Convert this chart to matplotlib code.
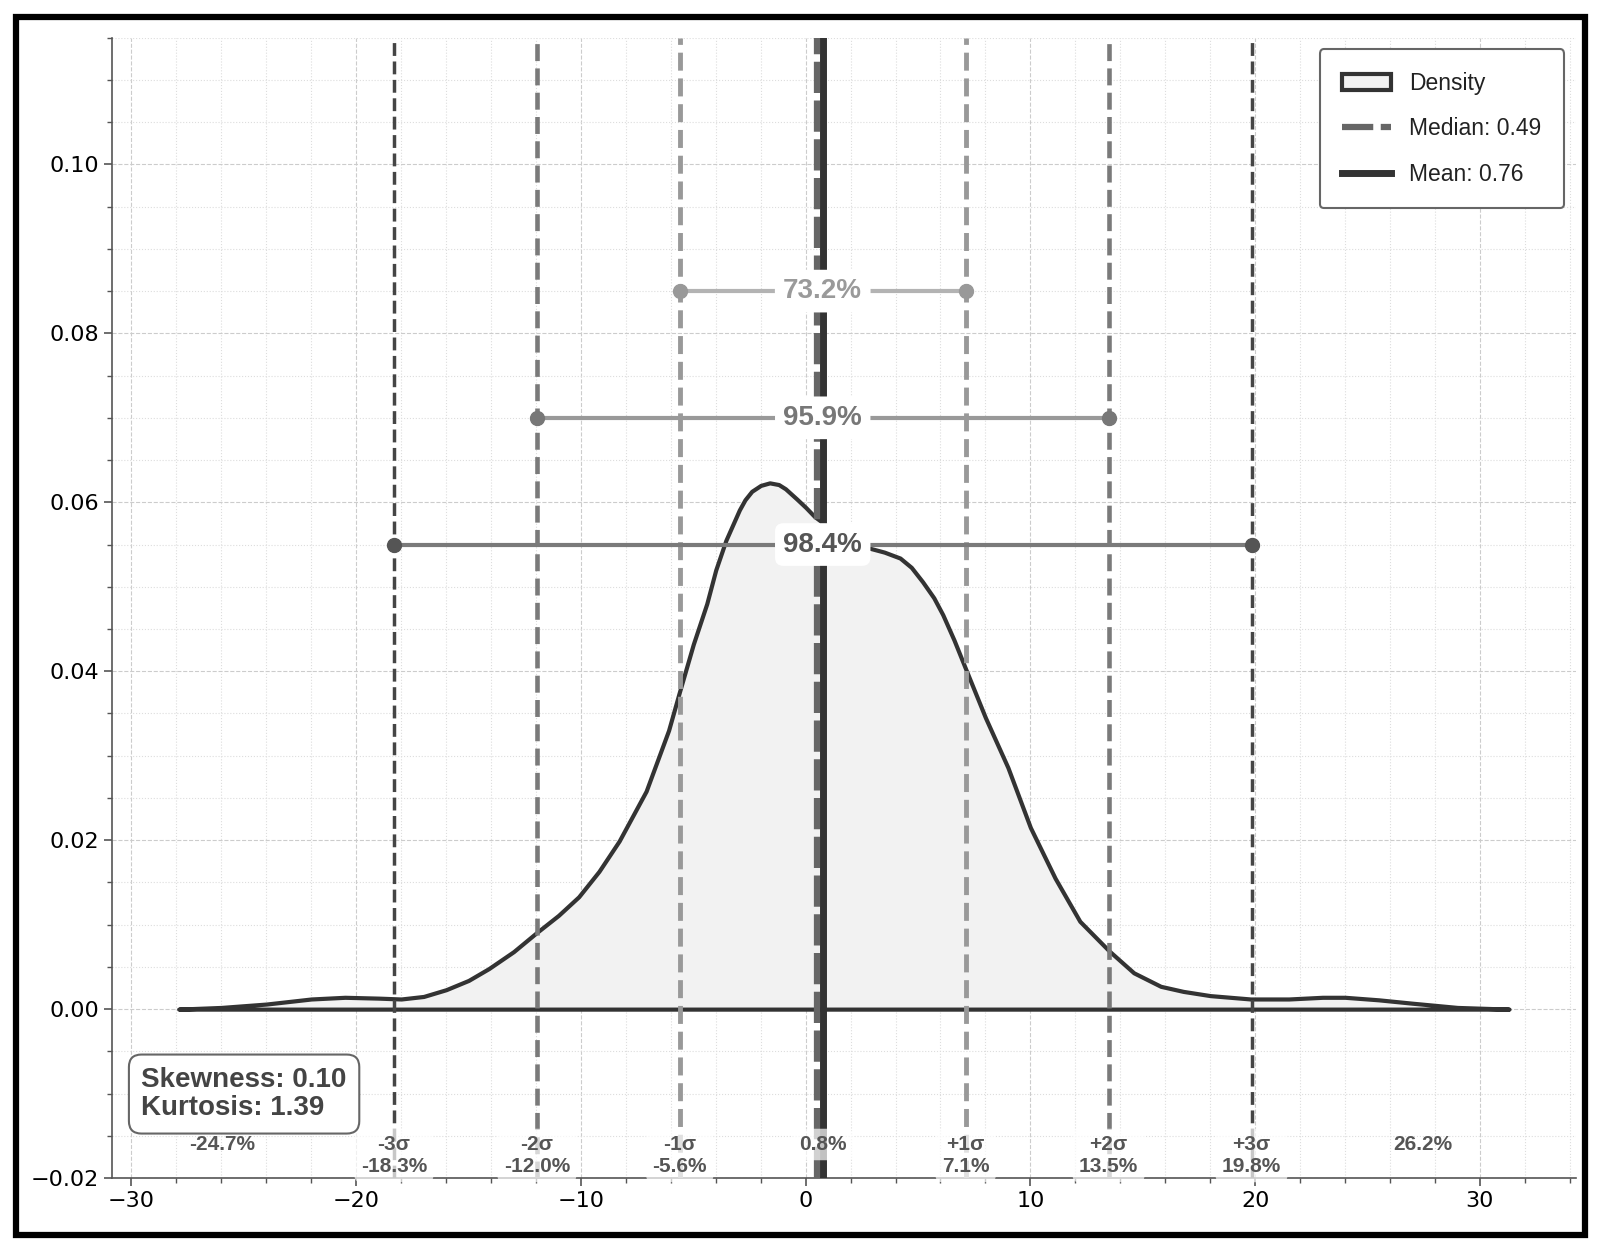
import numpy as np
import matplotlib.pyplot as plt
from matplotlib.patches import Rectangle
from matplotlib.ticker import MultipleLocator

# --- DATEN ---
kde_x = [-27.9, -26.0, -24.0, -22.0, -20.5, -19.0, -18.0, -17.0, -16.0, -15.0,
         -14.1, -13.0, -12.0, -11.0, -10.1, -9.2, -8.3, -7.1, -6.1, -5.6,
         -5.0, -4.4, -4.0, -3.55, -3.2, -2.95, -2.7, -2.4, -2.0, -1.6,
         -1.2, -0.9, -0.4, 0.0, 0.4, 0.76, 1.5, 2.0, 2.8, 3.5,
         4.2, 4.7, 5.2, 5.7, 6.1, 6.6, 7.1, 8.0, 9.0, 10.0,
         11.1, 12.2, 13.5, 14.6, 15.8, 16.8, 18.0, 19.8, 21.5, 23.0,
         24.0, 25.5, 27.0, 29.0, 31.3]
kde_y = [0.0000, 0.0002, 0.0006, 0.0012, 0.0014, 0.0013, 0.0012, 0.0015, 0.0023, 0.0034,
         0.0048, 0.0068, 0.0090, 0.0111, 0.0133, 0.0163, 0.0199, 0.0258, 0.0330, 0.0377,
         0.0432, 0.0480, 0.0520, 0.0555, 0.0576, 0.0591, 0.0603, 0.0613, 0.0620, 0.0623,
         0.0621, 0.0616, 0.0604, 0.0594, 0.0583, 0.0576, 0.0558, 0.0551, 0.0546, 0.0541,
         0.0534, 0.0523, 0.0506, 0.0487, 0.0467, 0.0437, 0.0404, 0.0345, 0.0286, 0.0215,
         0.0155, 0.0104, 0.0069, 0.0043, 0.0027, 0.0021, 0.0016, 0.0012, 0.0012, 0.0014,
         0.0014, 0.0011, 0.0007, 0.0002, 0.0000]

mittelwert = 0.76
median = 0.49
std = 6.36
skewness = 0.10
kurtosis = 1.39

sigma_stufen = [1, 2, 3]
sigma_anteile = ['73.2%', '95.9%', '98.4%']
bereich_hoehen = [0.085, 0.070, 0.055]

# Farben / Stil je Sigma-Stufe
linien_farben = ['#999999', '#7a7a7a', '#454545']
linien_breiten = [3.5, 3.3, 2.5]
balken_farben = ['#b3b3b3', '#999999', '#7a7a7a']
punkt_farben = ['#999999', '#777777', '#555555']
text_farben = ['#9a9a9a', '#777777', '#555555']

plt.rcParams['font.family'] = 'DejaVu Sans'
txt_font = ['Liberation Sans', 'DejaVu Sans']

fig = plt.figure(figsize=(16.02, 12.44), dpi=100)
ax = fig.add_axes([0.0700, 0.0530, 0.9135, 0.9167])

# Rahmen um die ganze Figur
fig.patches.append(Rectangle((0.0097, 0.0075), 0.9800, 0.9790, transform=fig.transFigure,
                             fill=False, edgecolor='black', linewidth=4.5, zorder=10))

# --- Dichte ---
ax.fill_between(kde_x, kde_y, 0, facecolor='#f2f2f2', edgecolor='#333333',
                linewidth=3, label='Density', zorder=2, joinstyle='round')

# --- Sigma-Linien ---
for k, farbe, lw in zip(sigma_stufen, linien_farben, linien_breiten):
    for s in (-1, 1):
        ax.axvline(mittelwert + s * k * std, color=farbe, linestyle='--', linewidth=lw, zorder=3)

ax.axvline(median, color='#666666', linestyle=(0, (5, 1.2)), linewidth=4.5,
           label=f'Median: {median:.2f}', zorder=4)
ax.axvline(mittelwert, color='#333333', linestyle='-', linewidth=5,
           label=f'Mean: {mittelwert:.2f}', zorder=4)

# --- Bereichsbalken ---
for k, anteil, h, bf, pf, tf in zip(sigma_stufen, sigma_anteile, bereich_hoehen,
                                     balken_farben, punkt_farben, text_farben):
    links = mittelwert - k * std
    rechts = mittelwert + k * std
    ax.plot([links, rechts], [h, h], color=bf, linewidth=3, zorder=5)
    ax.plot([links, rechts], [h, h], 'o', color=pf, markersize=10, zorder=5)
    ax.text(mittelwert, h, anteil, ha='center', va='center', fontsize=20,
            fontweight='bold', color=tf, family=txt_font, zorder=6,
            bbox=dict(boxstyle='round,pad=0.3', facecolor='white', edgecolor='none'))

# --- Beschriftungen unten ---
label_y = -0.0149
for k in sigma_stufen:
    for s in (-1, 1):
        wert = mittelwert + s * k * std
        zeichen = '-' if s < 0 else '+'
        ax.text(wert, label_y, f'{zeichen}{k}σ\n{wert:.1f}%', ha='center', va='top',
                fontsize=15, fontweight='bold', color='#555555', family=txt_font,
                linespacing=1.2, zorder=6,
                bbox=dict(boxstyle='round,pad=0.3', facecolor='white', edgecolor='none', alpha=0.7))
ax.text(mittelwert, label_y, f'{mittelwert:.1f}%', ha='center', va='top',
        fontsize=15, fontweight='bold', color='#555555', family=txt_font, zorder=6,
        bbox=dict(boxstyle='round,pad=0.3', facecolor='white', edgecolor='none', alpha=0.7))
for s in (-1, 1):
    wert = mittelwert + s * 4 * std
    ax.text(mittelwert + s * 4.2 * std, label_y, f'{wert:.1f}%', ha='center', va='top',
            fontsize=15, fontweight='bold', color='#555555', family=txt_font, zorder=6)

# --- Statistik-Box ---
ax.text(0.020, 0.050, f'Skewness: {skewness:.2f}\nKurtosis: {kurtosis:.2f}',
        transform=ax.transAxes, ha='left', va='bottom', fontsize=20, fontweight='bold',
        color='#444444', family=txt_font, linespacing=1.1, zorder=7,
        bbox=dict(boxstyle='round,pad=0.45', facecolor='white', edgecolor='#666666', linewidth=1.5))

# --- Achsen ---
ax.margins(x=0.05)
ax.set_ylim(-0.02, 0.115)
ax.xaxis.set_major_locator(MultipleLocator(10))
ax.xaxis.set_minor_locator(MultipleLocator(2))
ax.yaxis.set_major_locator(MultipleLocator(0.02))
ax.yaxis.set_minor_locator(MultipleLocator(0.005))
ax.grid(True, which='major', linestyle='--', color='#cccccc', linewidth=0.8)
ax.grid(True, which='minor', linestyle=':', color='#dddddd', linewidth=0.8)
ax.set_axisbelow(True)
for seite in ['top', 'right']:
    ax.spines[seite].set_visible(False)
for seite in ['left', 'bottom']:
    ax.spines[seite].set_color('#555555')
    ax.spines[seite].set_linewidth(1.2)
ax.tick_params(which='major', length=6, width=1.2, color='#555555', labelsize=16, labelcolor='black')
ax.tick_params(which='minor', length=3.5, width=1.0, color='#555555')

leg = ax.legend(loc='upper right', handlelength=2.1, labelspacing=0.97,
                borderpad=1.0, framealpha=1, fancybox=True,
                prop={'family': txt_font, 'size': 16.5})
leg.get_frame().set_edgecolor('#666666')
leg.get_frame().set_linewidth(1.5)
for t in leg.get_texts():
    t.set_color('#222222')

fig.savefig('out.png', dpi=100)
